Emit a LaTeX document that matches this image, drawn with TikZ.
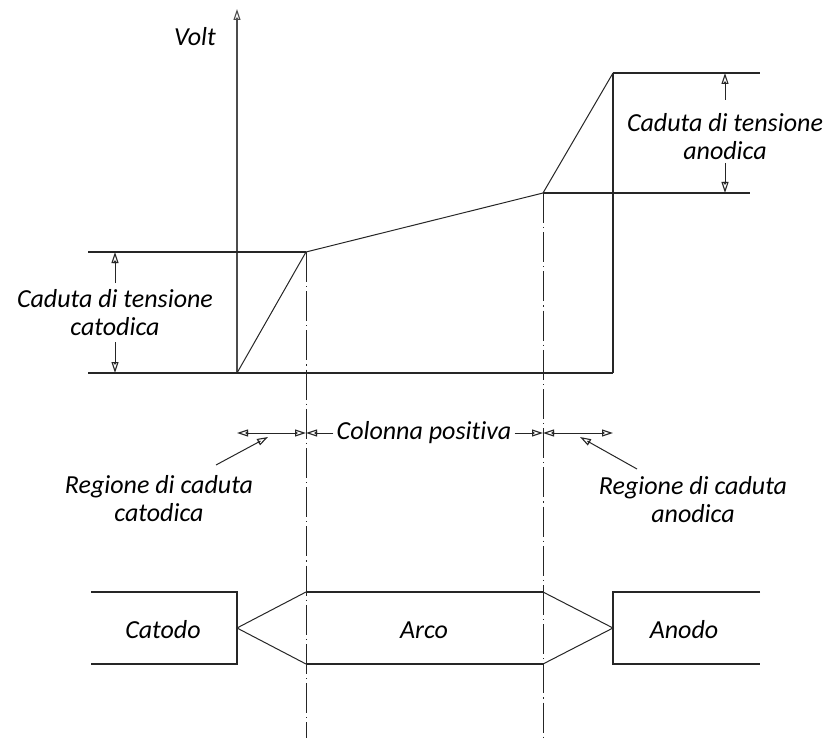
\documentclass[tikz,border=0pt]{standalone}
\usepackage{fontspec}
\setmainfont{Carlito}[Ligatures=NoCommon]
\usetikzlibrary{arrows.meta}

\tikzset{
  line/.style={line width=1.2pt, draw=black!85},
  thin line/.style={line width=1pt, draw=black!85},
  axis line/.style={line width=1.2pt, draw=black!70},
  centre line/.style={line width=1pt, draw=black!85,
    dash pattern=on 30pt off 4pt on 1.2pt off 4pt},
  tip/.tip={Triangle[length=3pt, width=3pt, sep=-3pt]
            Triangle[open, length=11pt, width=7pt, line width=1.1pt]},
  dimarrow/.style={thin line, -tip},
  dimboth/.style={thin line, tip-tip},
  label/.style={font=\fontsize{26}{28}\selectfont\itshape, text=black,
    align=center, inner sep=0pt},
}

\begin{document}
\begin{tikzpicture}[x=1pt, y=-1pt]
\useasboundingbox (0,0) rectangle (827,738);

% characteristic points of the voltage curve
\coordinate (o)  at (237,373);
\coordinate (c)  at (306,252);
\coordinate (a)  at (543,193);
\coordinate (t)  at (613,73);
\coordinate (b)  at (613,373);
\coordinate (ytop) at (237,9);

% voltage axis
\draw[axis line, -tip] (o) -- (ytop);
\node[label] (volt) at (195,37) {Volt};

% reference levels
\draw[line] (88,373) -- (b);
\draw[line] (88,252) -- (c);
\draw[line] (a) -- (750,193);
\draw[line] (t) -- (760,73);
\draw[line] (t) -- (b);

% voltage profile
\draw[thin line] (o) -- (c) -- (a) -- (t);

% centre lines through the boundaries of the positive column
\draw[centre line] (c) -- (306,738);
\draw[centre line] (a) -- (543,738);

% cathode drop dimension
\node[label] (catdrop) at (115,313) {Caduta di tensione\\catodica};
\coordinate (cd1) at (115,283);
\coordinate (cd2) at (115,342);
\draw[dimarrow] (cd1) -- (115,252);
\draw[dimarrow] (cd2) -- (115,373);

% anode drop dimension
\node[label] (androp) at (725,137) {Caduta di tensione\\anodica};
\coordinate (ad1) at (725,100);
\coordinate (ad2) at (725,163);
\draw[dimarrow] (ad1) -- (725,73);
\draw[dimarrow] (ad2) -- (725,193);

% region widths
\coordinate (r0) at (237,433);
\coordinate (r1) at (306,433);
\coordinate (r2) at (543,433);
\coordinate (r3) at (613,433);
\node[label, inner xsep=3pt] (col) at (424,433) {Colonna positiva};
\draw[dimboth] (r0) -- (r1);
\draw[dimarrow] (col.west) -- (r1);
\draw[dimarrow] (col.east) -- (r2);
\draw[dimboth] (r2) -- (r3);

% region labels with leaders
\node[label] (regcat) at (159,499) {Regione di caduta\\catodica};
\node[label] (regan) at (693,500) {Regione di caduta\\anodica};
\coordinate (lc) at (216,465);
\coordinate (la) at (637,469);
\draw[dimarrow] (lc) -- (268,437);
\draw[dimarrow] (la) -- (580,437);

% electrodes and arc
\draw[line] (91,592) -- (237,592) -- (237,664) -- (91,664);
\draw[line] (760,592) -- (613,592) -- (613,664) -- (760,664);
\draw[line] (306,592) -- (543,592);
\draw[line] (306,664) -- (543,664);
\draw[thin line] (306,592) -- (237,628) -- (306,664);
\draw[thin line] (543,592) -- (613,628) -- (543,664);
\node[label] (catodo) at (163,630) {Catodo};
\node[label] (arco) at (424,630) {Arco};
\node[label] (anodo) at (684,630) {Anodo};
\end{tikzpicture}
\end{document}
